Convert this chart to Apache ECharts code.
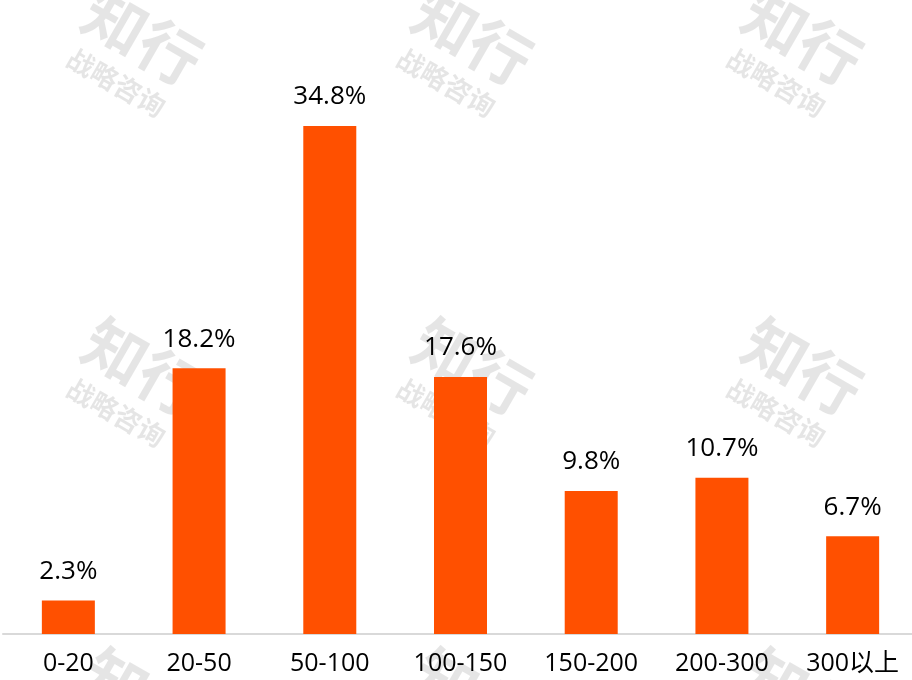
<!DOCTYPE html>
<html>
<head>
<meta charset="utf-8">
<script src="https://cdn.jsdelivr.net/npm/echarts@6/dist/echarts.min.js"></script>
<style>html,body{margin:0;padding:0;background:#fff}#c{width:912px;height:680px}</style>
</head>
<body>
<div id="c"></div>
<script>
const categories = ['0-20','20-50','50-100','100-150','150-200','200-300','300以上'];
const values = [2.3, 18.2, 34.8, 17.6, 9.8, 10.7, 6.7];
const watermarkCenters = [[127,60],[457,60],[787,60],[127,390],[457,390],[787,390],[127,720],[457,720],[787,720]];

const FONT = '"Open Sans", "Noto Sans CJK SC", sans-serif';
const WFONT = '"Noto Sans CJK SC", sans-serif';
const chart = echarts.init(document.getElementById('c'));

const wm = watermarkCenters.map(([x,y]) => ({
  type: 'group',
  x: x, y: y,
  rotation: -Math.PI/6,
  z: 100,
  silent: true,
  children: [
    {type:'text', style:{text:'知行', x:2, y:-28, fill:'rgba(0,0,0,0.1)', font:'bold 62px ' + WFONT, align:'center', verticalAlign:'middle'}},
    {type:'text', style:{text:'战略咨询', x:2, y:25, fill:'rgba(0,0,0,0.1)', font:'bold 27px ' + WFONT, align:'center', verticalAlign:'middle'}}
  ]
}));

chart.setOption({
  backgroundColor: '#fff',
  animation: false,
  grid: {left: 3, width: 915, top: 50, bottom: 46, outerBoundsMode: 'none', containLabel: false},
  xAxis: {
    type: 'category',
    data: categories,
    axisLine: {lineStyle: {color: '#d9d9d9', width: 2}},
    axisTick: {show: false},
    axisLabel: {color: '#000', fontSize: 25, fontFamily: FONT, margin: 17, interval: 0}
  },
  yAxis: {type: 'value', min: 0, max: 40, show: false, splitLine: {show: false}},
  series: [{
    type: 'bar',
    data: values,
    barWidth: 53,
    itemStyle: {color: '#FF5000'},
    label: {show: true, position: 'top', distance: 16, color: '#000', fontSize: 26, fontFamily: FONT,
      formatter: p => p.value.toFixed(1) + '%'}
  }],
  graphic: wm
});
</script>
</body>
</html>
